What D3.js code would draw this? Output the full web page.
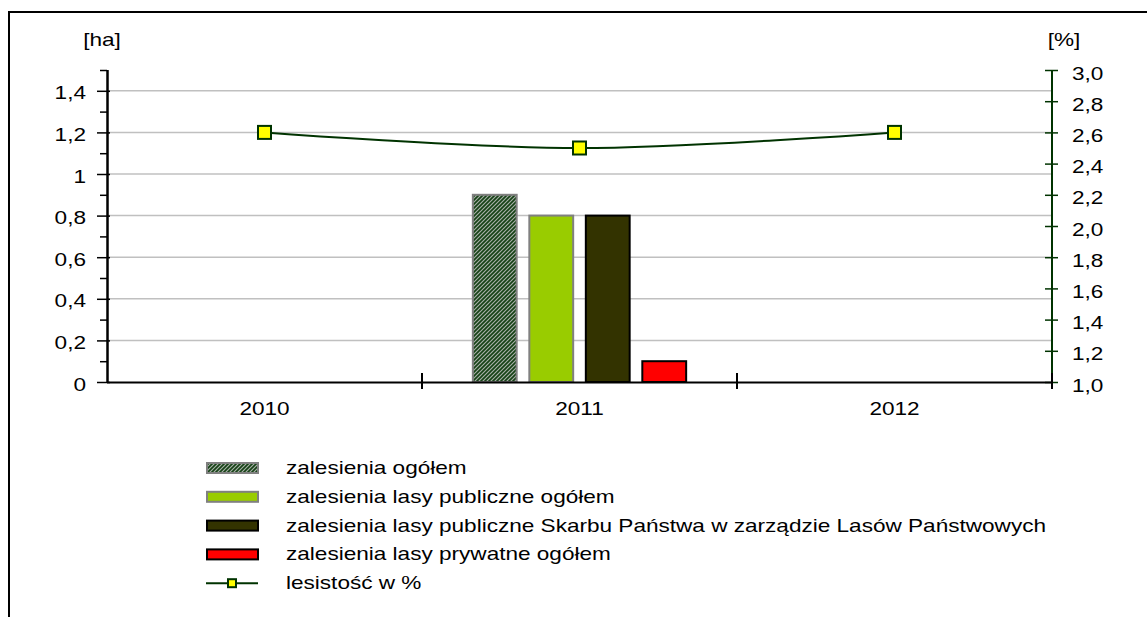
<!DOCTYPE html>
<html>
<head>
<meta charset="utf-8">
<script src="https://cdn.jsdelivr.net/npm/d3@7"></script>
<style>
  body { margin: 0; background: #fff; }
  svg text { font-family: "Liberation Sans", Arial, sans-serif; font-size: 17.5px; fill: #000; }
</style>
</head>
<body>
<div id="chart"></div>
<script>
// chart data
const years = ["2010", "2011", "2012"];
const seriesNames = [
    "zalesienia ogółem",
    "zalesienia lasy publiczne ogółem",
    "zalesienia lasy publiczne Skarbu Państwa w zarządzie Lasów Państwowych",
    "zalesienia lasy prywatne ogółem"
];
const zalesieniaOgolem = [null, 0.9, null];
const publiczneOgolem = [null, 0.8, null];
const skarbPanstwa = [null, 0.8, null];
const prywatneOgolem = [null, 0.1, null];
const lesistosc = [2.6, 2.5, 2.6];
const lineName = "lesistość w %";
const leftTicks = [0, 0.2, 0.4, 0.6, 0.8, 1, 1.2, 1.4];
const leftMinor = [0.1, 0.3, 0.5, 0.7, 0.9, 1.1, 1.3, 1.5];
const rightTicks = [1.0, 1.2, 1.4, 1.6, 1.8, 2.0, 2.2, 2.4, 2.6, 2.8, 3.0];

const barValues = [zalesieniaOgolem, publiczneOgolem, skarbPanstwa, prywatneOgolem];

const W = 1147, H = 617;
const SX = 1.29; // the original text is stretched horizontally
const plot = {left: 107, right: 1052, top: 70, bottom: 382};

const pl = d3.formatLocale({decimal: ",", thousands: " ", grouping: [3], currency: ["", " zł"]});
const fmtLeft = pl.format(".1~f");
const fmtRight = pl.format(".1f");

const svg = d3.select("#chart").append("svg")
    .attr("width", W).attr("height", H);

// hatch pattern
const defs = svg.append("defs");
const pat = defs.append("pattern")
    .attr("id", "hatch")
    .attr("patternUnits", "userSpaceOnUse")
    .attr("width", 4).attr("height", 4);
pat.append("rect").attr("width", 4).attr("height", 4).attr("fill", "#a8b0a8");
pat.append("path")
    .attr("d", "M-1,1 l2,-2 M0,4 l4,-4 M3,5 l2,-2")
    .attr("stroke", "#164216").attr("stroke-width", 1.7);

const fills = ["url(#hatch)", "#99cc00", "#333300", "#ff0000"];
const strokes = ["#808080", "#808080", "#000000", "#000000"];

// frame (only top and left visible)
svg.append("path")
    .attr("d", `M9,${H} V12 H${W}`)
    .attr("fill", "none").attr("stroke", "#000").attr("stroke-width", 2);

const x = d3.scaleBand().domain(years).range([plot.left, plot.right]).padding(0);
const xInner = d3.scaleBand().domain(d3.range(seriesNames.length))
    .range([0, x.bandwidth()]).paddingInner(0.224).paddingOuter(0.9);
const yL = d3.scaleLinear().domain([0, 1.5]).range([plot.bottom, plot.top]);
const yR = d3.scaleLinear().domain([1, 3]).range([plot.bottom, plot.top]);

function stretch(sel) {
    sel.each(function () {
        const t = d3.select(this);
        const xx = +t.attr("x") || 0;
        t.attr("x", xx / SX).attr("transform", `scale(${SX},1)`);
    });
}

// grid
svg.append("g").selectAll("line")
    .data(leftTicks.filter(d => d > 0))
    .join("line")
    .attr("x1", plot.left).attr("x2", plot.right)
    .attr("y1", d => yL(d)).attr("y2", d => yL(d))
    .attr("stroke", "#c0c0c0").attr("stroke-width", 1.5);

// bars
const groups = svg.append("g").selectAll("g")
    .data(years)
    .join("g")
    .attr("transform", d => `translate(${x(d)},0)`);

groups.selectAll("rect")
    .data((d, i) => barValues.map((s, k) => ({k: k, v: s[i]})).filter(e => e.v != null))
    .join("rect")
    .attr("x", d => xInner(d.k))
    .attr("width", xInner.bandwidth())
    .attr("y", d => yL(d.v))
    .attr("height", d => yL(0) - yL(d.v))
    .attr("fill", d => fills[d.k])
    .attr("stroke", d => strokes[d.k])
    .attr("stroke-width", 2);

// left axis
const gL = svg.append("g").attr("transform", `translate(${plot.left},0)`)
    .call(d3.axisLeft(yL).tickValues(leftMinor).tickSize(7).tickFormat(""));
const gL2 = svg.append("g").attr("transform", `translate(${plot.left},0)`)
    .call(d3.axisLeft(yL).tickValues(leftTicks).tickSize(10).tickPadding(11).tickFormat(fmtLeft));
[gL, gL2].forEach(g => {
    g.select(".domain").attr("d", `M0.5,${plot.top}V${plot.bottom}`).attr("stroke", "#000").attr("stroke-width", 2);
    g.selectAll(".tick line").attr("stroke", "#000").attr("stroke-width", 1.5);
});
gL2.selectAll(".tick line").attr("x1", 3);
gL2.selectAll(".tick text").attr("dy", "0.72em").attr("y", -4.5).call(stretch);
gL.selectAll("text").remove();

// right axis
const gR = svg.append("g").attr("transform", `translate(${plot.right},0)`)
    .call(d3.axisRight(yR).tickValues(rightTicks).tickSize(6).tickPadding(14).tickFormat(fmtRight));
gR.select(".domain").attr("d", `M0,${plot.top}V${plot.bottom}`).attr("stroke", "#003300").attr("stroke-width", 2);
gR.selectAll(".tick line").attr("x1", -7).attr("stroke", "#003300").attr("stroke-width", 1.5);
gR.selectAll(".tick text").attr("dy", "0.72em").attr("y", -3.5).call(stretch);

// x axis
const gX = svg.append("g").attr("transform", `translate(0,${plot.bottom})`)
    .call(d3.axisBottom(x).tickSize(0).tickPadding(20));
gX.select(".domain").attr("d", `M${plot.left},0.5H${plot.right}`).attr("stroke", "#000").attr("stroke-width", 2);
gX.selectAll(".tick text").attr("dy", "0.72em").call(stretch);
svg.append("g").selectAll("line")
    .data(years.slice(1).concat("end"))
    .join("line")
    .attr("x1", d => d === "end" ? plot.right : x(d))
    .attr("x2", d => d === "end" ? plot.right : x(d))
    .attr("y1", plot.bottom - 9).attr("y2", plot.bottom + 7)
    .attr("stroke", "#000").attr("stroke-width", 2);

// axis units
svg.append("text").attr("x", 102).attr("y", 46).attr("text-anchor", "middle").text("[ha]").call(stretch);
svg.append("text").attr("x", 1064).attr("y", 46).attr("text-anchor", "middle").text("[%]").call(stretch);

// line on right axis
const line = d3.line()
    .x((d, i) => x(years[i]) + x.bandwidth() / 2)
    .y(d => yR(d))
    .curve(d3.curveCatmullRom.alpha(0.5));
svg.append("path")
    .datum(lesistosc)
    .attr("d", line)
    .attr("fill", "none").attr("stroke", "#003300").attr("stroke-width", 2);
svg.append("g").selectAll("rect")
    .data(lesistosc)
    .join("rect")
    .attr("x", (d, i) => x(years[i]) + x.bandwidth() / 2 - 6.5)
    .attr("y", d => yR(d) - 6.5)
    .attr("width", 13).attr("height", 13)
    .attr("fill", "#ffff00").attr("stroke", "#003300").attr("stroke-width", 2);

// legend
const leg = svg.append("g").attr("transform", "translate(206,462)");
const rowH = 28.8;
seriesNames.forEach((name, k) => {
    const r = leg.append("g").attr("transform", `translate(0,${k * rowH})`);
    r.append("rect").attr("x", 1).attr("y", 1).attr("width", 51).attr("height", 10)
        .attr("fill", fills[k]).attr("stroke", strokes[k]).attr("stroke-width", 2);
    r.append("text").attr("x", 80).attr("y", 12).text(name).call(stretch);
});
const lr = leg.append("g").attr("transform", `translate(0,${4 * rowH})`);
lr.append("line").attr("x1", 0).attr("x2", 52).attr("y1", 6).attr("y2", 6)
    .attr("stroke", "#003300").attr("stroke-width", 2);
lr.append("rect").attr("x", 22).attr("y", 2).attr("width", 8).attr("height", 8)
    .attr("fill", "#ffff00").attr("stroke", "#003300").attr("stroke-width", 2);
lr.append("text").attr("x", 80).attr("y", 12).text(lineName).call(stretch);
</script>
</body>
</html>
